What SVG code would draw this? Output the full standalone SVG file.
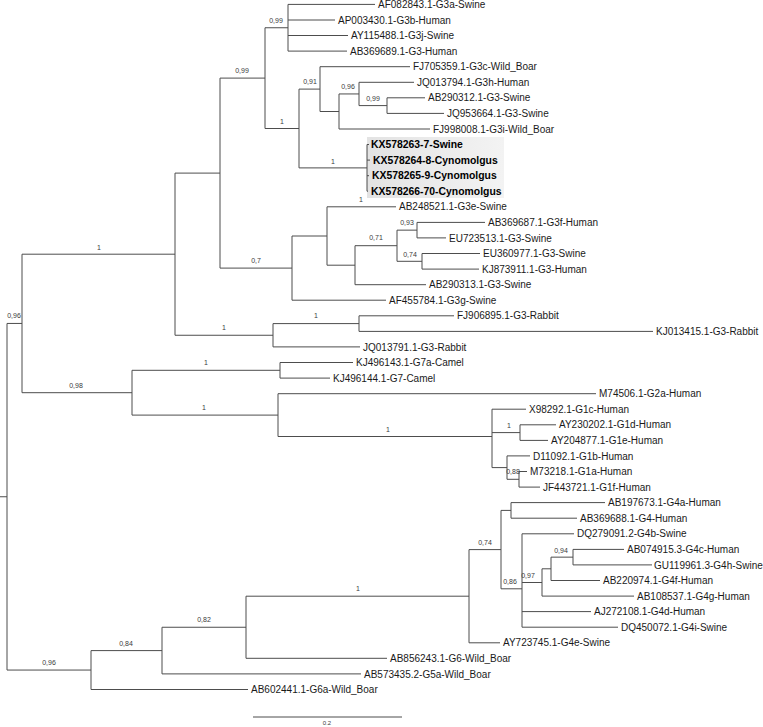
<svg xmlns="http://www.w3.org/2000/svg" width="763" height="727" viewBox="0 0 763 727">
<defs>
<linearGradient id="hl" x1="0" y1="0" x2="1" y2="0">
<stop offset="0" stop-color="#e3e3e3"/>
<stop offset="1" stop-color="#f3f3f3"/>
</linearGradient>
<style>
.br{fill:none;stroke:#4d4d4d;stroke-width:1}
.lf{font-family:"Liberation Sans",Arial,sans-serif;font-size:10px;fill:#1a1a1a}
.kx{font-family:"Liberation Sans",Arial,sans-serif;font-size:10.4px;font-weight:bold;fill:#000}
.sp{font-family:"Liberation Sans",Arial,sans-serif;font-size:7px;fill:#3a3a3a;text-anchor:middle}
</style>
</defs>
<rect width="763" height="727" fill="#fff"/>
<rect id="highlight" x="367" y="137" width="137" height="61" fill="url(#hl)"/>
<g id="connectors" class="br">
<path d="M0 496.75H7M7 323.45V670.05M7 323.45H22M7 670.05H91"/>
<path d="M22 254.2V392.7M22 254.2H175M22 392.7H132"/>
<path d="M175 173.1V335.25M175 173.1H220M175 335.25H273"/>
<path d="M220 78.1V268.1M220 78.1H265M220 268.1H292"/>
<path d="M265 27.75V128.5M265 27.75H288M265 128.5H299"/>
<path d="M288 4.4V51.1M288 4.4H375M288 20H335M288 35.5H348M288 51.1H347"/>
<path d="M299 89.1V167.9M299 89.1H320M299 167.9H367"/>
<path d="M320 66.7V111.5M320 66.7H410M320 111.5H339"/>
<path d="M339 93.95V129M339 93.95H359M339 129H430"/>
<path d="M359 82.3V105.6M359 82.3H414M359 105.6H387"/>
<path d="M387 97.8V113.4M387 97.8H425M387 113.4H444"/>
<path d="M367 144.5V191.2M367 144.5H369M367 160.1H370M367 175.7H369M367 191.2H368"/>
<path d="M292 236V300.2M292 236H327M292 300.2H386"/>
<path d="M327 206.8V265.2M327 206.8H396M327 265.2H355"/>
<path d="M355 245.7V284.7M355 245.7H397M355 284.7H426"/>
<path d="M397 230.15V261.3M397 230.15H417M397 261.3H422"/>
<path d="M417 222.4V237.9M417 222.4H485M417 237.9H446"/>
<path d="M422 253.5V269.1M422 253.5H480M422 269.1H479"/>
<path d="M273 323.6V346.9M273 323.6H359M273 346.9H360"/>
<path d="M359 315.8V331.4M359 315.8H454M359 331.4H653"/>
<path d="M132 370.3V415.1M132 370.3H280M132 415.1H278"/>
<path d="M280 362.5V378.1M280 362.5H353M280 378.1H330"/>
<path d="M278 393.7V436.5M278 393.7H596M278 436.5H492"/>
<path d="M492 409.2V467.6M492 409.2H526M492 432.6H520M492 467.6H507"/>
<path d="M520 424.8V440.4M520 424.8H556M520 440.4H548"/>
<path d="M507 455.9V479.3M507 455.9H530M507 479.3H519"/>
<path d="M519 471.5V487.1M519 471.5H527M519 487.1H540"/>
<path d="M91 650.6V689.5M91 650.6H162M91 689.5H248"/>
<path d="M162 627.25V673.9M162 627.25H246M162 673.9H361"/>
<path d="M246 596.2V658.3M246 596.2H469M246 658.3H387"/>
<path d="M469 549.6V642.8M469 549.6H501M469 642.8H500"/>
<path d="M501 510.4V588.8M501 510.4H511M501 588.8H522"/>
<path d="M511 502.6V518.2M511 502.6H605M511 518.2H577"/>
<path d="M522 533.8V627.2M522 533.8H574M522 582.5H542M522 611.6H591M522 627.2H618"/>
<path d="M542 568.8V596.1M542 568.8H551M542 596.1H634"/>
<path d="M551 557.15V580.5M551 557.15H573M551 580.5H600"/>
<path d="M573 549.4V564.9M573 549.4H624M573 564.9H652"/>
<path id="scalebar" d="M253 717H402"/>
</g>
<g id="leaves" class="lf">
<g id="n0"><text x="378" y="8">AF082843.1-G3a-Swine</text></g>
<g id="n1"><text x="338" y="23.6">AP003430.1-G3b-Human</text></g>
<g id="n2"><text x="351" y="39.1">AY115488.1-G3j-Swine</text></g>
<g id="n3"><text x="350" y="54.7">AB369689.1-G3-Human</text></g>
<g id="n4"><text x="413" y="70.3">FJ705359.1-G3c-Wild_Boar</text></g>
<g id="n5"><text x="417" y="85.9">JQ013794.1-G3h-Human</text></g>
<g id="n6"><text x="428" y="101.4">AB290312.1-G3-Swine</text></g>
<g id="n7"><text x="447" y="117">JQ953664.1-G3-Swine</text></g>
<g id="n8"><text x="433" y="132.6">FJ998008.1-G3i-Wild_Boar</text></g>
<g id="n9"><text class="kx" x="371" y="148.1">KX578263-7-Swine</text></g>
<g id="n10"><text class="kx" x="373" y="163.7">KX578264-8-Cynomolgus</text></g>
<g id="n11"><text class="kx" x="372" y="179.3">KX578265-9-Cynomolgus</text></g>
<g id="n12"><text class="kx" x="371" y="194.8">KX578266-70-Cynomolgus</text></g>
<g id="n13"><text x="399" y="210.4">AB248521.1-G3e-Swine</text></g>
<g id="n14"><text x="488" y="226">AB369687.1-G3f-Human</text></g>
<g id="n15"><text x="449" y="241.5">EU723513.1-G3-Swine</text></g>
<g id="n16"><text x="483" y="257.1">EU360977.1-G3-Swine</text></g>
<g id="n17"><text x="482" y="272.7">KJ873911.1-G3-Human</text></g>
<g id="n18"><text x="429" y="288.3">AB290313.1-G3-Swine</text></g>
<g id="n19"><text x="389" y="303.8">AF455784.1-G3g-Swine</text></g>
<g id="n20"><text x="457" y="319.4">FJ906895.1-G3-Rabbit</text></g>
<g id="n21"><text x="656" y="335">KJ013415.1-G3-Rabbit</text></g>
<g id="n22"><text x="363" y="350.5">JQ013791.1-G3-Rabbit</text></g>
<g id="n23"><text x="356" y="366.1">KJ496143.1-G7a-Camel</text></g>
<g id="n24"><text x="333" y="381.7">KJ496144.1-G7-Camel</text></g>
<g id="n25"><text x="599" y="397.3">M74506.1-G2a-Human</text></g>
<g id="n26"><text x="529" y="412.8">X98292.1-G1c-Human</text></g>
<g id="n27"><text x="559" y="428.4">AY230202.1-G1d-Human</text></g>
<g id="n28"><text x="551" y="444">AY204877.1-G1e-Human</text></g>
<g id="n29"><text x="533" y="459.5">D11092.1-G1b-Human</text></g>
<g id="n30"><text x="530" y="475.1">M73218.1-G1a-Human</text></g>
<g id="n31"><text x="543" y="490.7">JF443721.1-G1f-Human</text></g>
<g id="n32"><text x="608" y="506.2">AB197673.1-G4a-Human</text></g>
<g id="n33"><text x="580" y="521.8">AB369688.1-G4-Human</text></g>
<g id="n34"><text x="577" y="537.4">DQ279091.2-G4b-Swine</text></g>
<g id="n35"><text x="627" y="553">AB074915.3-G4c-Human</text></g>
<g id="n36"><text x="654" y="568.5">GU119961.3-G4h-Swine</text></g>
<g id="n37"><text x="603" y="584.1">AB220974.1-G4f-Human</text></g>
<g id="n38"><text x="637" y="599.7">AB108537.1-G4g-Human</text></g>
<g id="n39"><text x="594" y="615.2">AJ272108.1-G4d-Human</text></g>
<g id="n40"><text x="621" y="630.8">DQ450072.1-G4i-Swine</text></g>
<g id="n41"><text x="503" y="646.4">AY723745.1-G4e-Swine</text></g>
<g id="n42"><text x="390" y="661.9">AB856243.1-G6-Wild_Boar</text></g>
<g id="n43"><text x="364" y="677.5">AB573435.2-G5a-Wild_Boar</text></g>
<g id="n44"><text x="251" y="693.1">AB602441.1-G6a-Wild_Boar</text></g>
</g>
<g id="support" class="sp">
<text x="276" y="23">0,99</text>
<text x="242" y="73">0,99</text>
<text x="310" y="84">0,91</text>
<text x="348" y="89">0,96</text>
<text x="373" y="101">0,99</text>
<text x="282" y="124">1</text>
<text x="333" y="164">1</text>
<text x="361" y="202">1</text>
<text x="407" y="225">0,93</text>
<text x="376" y="240">0,71</text>
<text x="410" y="257">0,74</text>
<text x="256" y="263">0,7</text>
<text x="99" y="250">1</text>
<text x="14" y="318">0,96</text>
<text x="224" y="330">1</text>
<text x="316" y="318">1</text>
<text x="76" y="388">0,98</text>
<text x="206" y="365">1</text>
<text x="204" y="410">1</text>
<text x="388" y="432">1</text>
<text x="509" y="428">1</text>
<text x="513" y="474">0,88</text>
<text x="485" y="545">0,74</text>
<text x="561" y="553">0,94</text>
<text x="528" y="578">0,97</text>
<text x="510" y="584">0,86</text>
<text x="358" y="591">1</text>
<text x="204" y="622">0,82</text>
<text x="126" y="646">0,84</text>
<text x="49" y="665">0,96</text>
<text x="327" y="725" style="font-size:6px">0.2</text>
</g>
</svg>
